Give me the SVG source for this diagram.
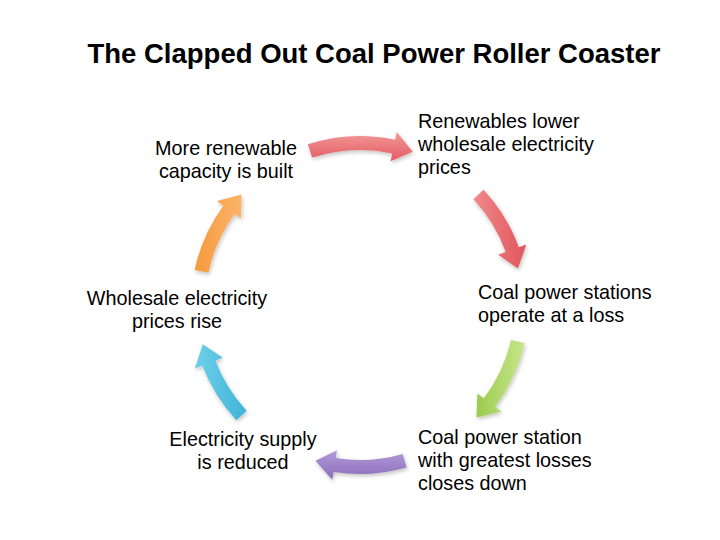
<svg xmlns="http://www.w3.org/2000/svg" width="720" height="540" viewBox="0 0 720 540">
<style>
.t{font-family:"Liberation Sans",Arial,sans-serif;font-size:19.8px;fill:#000}
.c{text-anchor:middle}
.title{font-family:"Liberation Sans",Arial,sans-serif;font-size:27.5px;font-weight:bold;text-anchor:middle;fill:#000}
.arr{filter:url(#sh)}
</style>
<defs>
<filter id="sh" x="-20%" y="-20%" width="140%" height="140%"><feGaussianBlur in="SourceAlpha" stdDeviation="2"/><feOffset dx="1" dy="2"/><feComponentTransfer><feFuncA type="linear" slope="0.25"/></feComponentTransfer><feMerge><feMergeNode/><feMergeNode in="SourceGraphic"/></feMerge></filter>
<linearGradient id="gR" x1="0" y1="0" x2="0" y2="1"><stop offset="0" stop-color="#f29a9a"/><stop offset="1" stop-color="#e35a60"/></linearGradient>
<linearGradient id="gR2" x1="0" y1="0" x2="1" y2="0"><stop offset="0" stop-color="#f08a8c"/><stop offset="1" stop-color="#e0555b"/></linearGradient>
<linearGradient id="gG" x1="1" y1="0" x2="0" y2="0"><stop offset="0" stop-color="#c6e68a"/><stop offset="1" stop-color="#9ccc50"/></linearGradient>
<linearGradient id="gP" x1="0" y1="0" x2="0" y2="1"><stop offset="0" stop-color="#b39bd8"/><stop offset="1" stop-color="#8a6cba"/></linearGradient>
<linearGradient id="gB" x1="0" y1="0" x2="1" y2="0"><stop offset="0" stop-color="#6fd0ea"/><stop offset="1" stop-color="#3fb3d6"/></linearGradient>
<linearGradient id="gO" x1="0" y1="0" x2="1" y2="0"><stop offset="0" stop-color="#f69a3e"/><stop offset="1" stop-color="#fbb46a"/></linearGradient>
</defs>
<rect width="720" height="540" fill="#fff"/>
<text class="title" x="374" y="63">The Clapped Out Coal Power Roller Coaster</text>
<g id="connectors">
<path class="arr" fill="url(#gR)" d="M307.8,144.3 A169,169 0 0 1 395.1,139.7 L396.8,131.9 L412.7,151.8 L390.6,161.2 L392.2,153.4 A155,155 0 0 0 312.1,157.6 Z"/>
<path class="arr" fill="url(#gR2)" d="M483.6,189.7 A169,169 0 0 1 518.8,247.2 L526.3,244.5 L517.9,268.5 L498.1,254.7 L505.7,252.0 A155,155 0 0 0 473.4,199.3 Z"/>
<path class="arr" fill="url(#gG)" d="M524.7,343.0 A169,169 0 0 1 495.0,406.7 L501.4,411.5 L476.5,417.5 L477.4,393.5 L483.8,398.3 A155,155 0 0 0 511.0,339.9 Z"/>
<path class="arr" fill="url(#gP)" d="M406.6,467.5 A169,169 0 0 1 333.6,471.9 L332.3,479.8 L315.4,460.7 L337.0,450.2 L335.8,458.1 A155,155 0 0 0 402.7,454.0 Z"/>
<path class="arr" fill="url(#gB)" d="M236.4,420.3 A169,169 0 0 1 202.2,365.6 L194.8,368.4 L202.8,344.2 L222.8,357.7 L215.3,360.6 A155,155 0 0 0 246.6,410.7 Z"/>
<path class="arr" fill="url(#gO)" d="M194.7,269.9 A169,169 0 0 1 223.3,205.7 L216.8,201.0 L241.5,194.5 L241.1,218.6 L234.6,213.9 A155,155 0 0 0 208.4,272.8 Z"/>
</g>
<g id="n1"><text class="t c" x="226" y="155">More renewable</text><text class="t c" x="226" y="178">capacity is built</text></g>
<g id="n2"><text class="t" x="418" y="128">Renewables lower</text><text class="t" x="418" y="151">wholesale electricity</text><text class="t" x="418" y="174">prices</text></g>
<g id="n3"><text class="t" x="478" y="299">Coal power stations</text><text class="t" x="478" y="322">operate at a loss</text></g>
<g id="n4"><text class="t" x="418" y="444">Coal power station</text><text class="t" x="418" y="467">with greatest losses</text><text class="t" x="418" y="490">closes down</text></g>
<g id="n5"><text class="t c" x="243" y="446">Electricity supply</text><text class="t c" x="243" y="469">is reduced</text></g>
<g id="n6"><text class="t c" x="177" y="305">Wholesale electricity</text><text class="t c" x="177" y="328">prices rise</text></g>
</svg>
